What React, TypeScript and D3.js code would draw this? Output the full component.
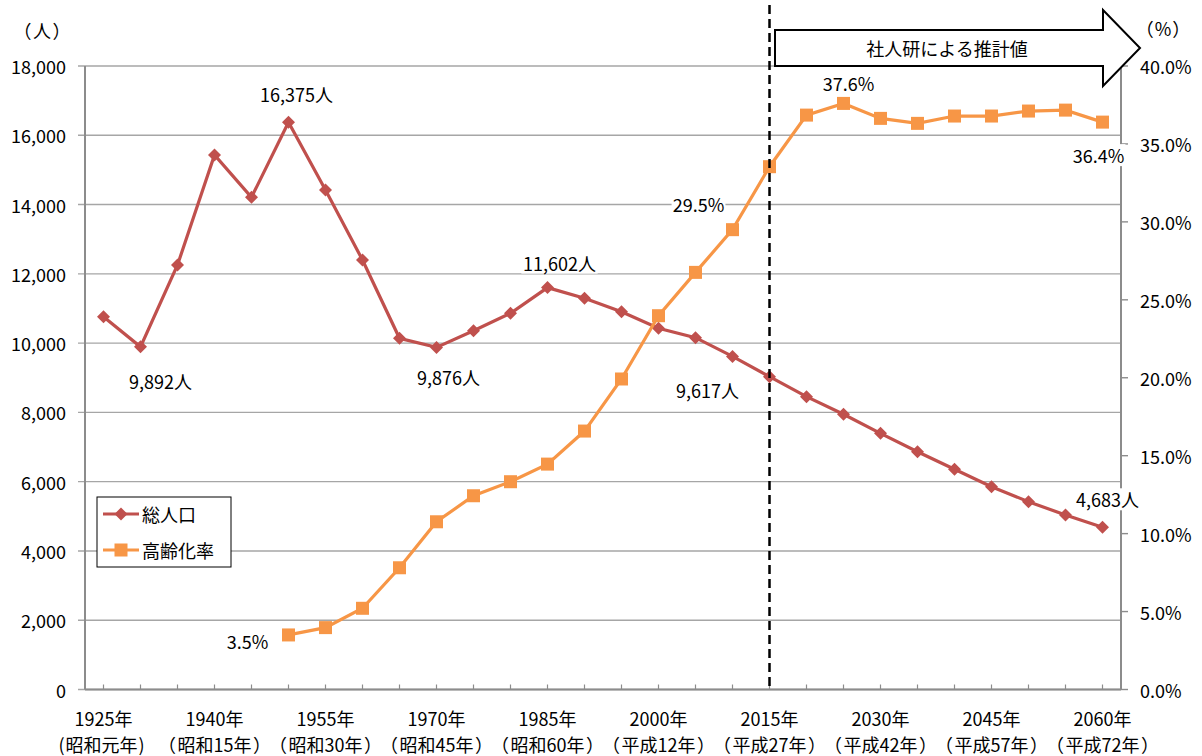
import React from "react";
import * as d3 from "d3";

const years = [1925,1930,1935,1940,1945,1950,1955,1960,1965,1970,1975,1980,1985,1990,1995,2000,2005,2010,2015,2020,2025,2030,2035,2040,2045,2050,2055,2060];
const population = [10760,9892,12255,15430,14209,16375,14420,12399,10139,9876,10358,10860,11602,11294,10907,10428,10157,9617,9030,8453,7945,7396,6865,6357,5855,5422,5038,4683];
const agingRate: (number | null)[] = [null,null,null,null,null,3.5,3.97,5.21,7.81,10.76,12.43,13.33,14.46,16.58,19.92,23.98,26.76,29.5,33.54,36.85,37.6,36.64,36.32,36.79,36.79,37.11,37.17,36.4];
const leftTicks = [0,2000,4000,6000,8000,10000,12000,14000,16000,18000];
const rightTicks = [0,5,10,15,20,25,30,35,40];
const xLabelYears = [1925,1940,1955,1970,1985,2000,2015,2030,2045,2060];
const xLabelLine1 = ["1925年","1940年","1955年","1970年","1985年","2000年","2015年","2030年","2045年","2060年"];
const xLabelEra = ["昭和元年","昭和15年","昭和30年","昭和45年","昭和60年","平成12年","平成27年","平成42年","平成57年","平成72年"];
const popLabelYears = [1930,1950,1970,1985,2010,2060];
const popLabelTexts = ["9,892人","16,375人","9,876人","11,602人","9,617人","4,683人"];
const rateLabelYears = [1950,2010,2025,2060];
const rateLabelTexts = ["3.5%","29.5%","37.6%","36.4%"];
const seriesNames = ["総人口","高齢化率"];
const projectionText = "社人研による推計値";
const projectionStart = 2015;

// layout offsets for labels (dx, dy of label centre from its point)
const popLabelOffsets = [[20,34],[8,-28],[12,30],[12,-25],[-25,34],[5,-28]];
const rateLabelOffsets = [[-41,6],[-34,-26],[5,-20],[-4,33]];

const W = 1202, H = 756;
const M = { left: 85, right: 1121, top: 66, bottom: 689.5 };
const RED = "#C0504D";
const ORANGE = "#F79646";
const FONT = "'Noto Sans CJK JP', 'Noto Sans', sans-serif";
const FS = 18;

export default function App() {
  const x = d3.scaleBand<number>().domain(years).range([M.left, M.right]).padding(0);
  const cx = (yr: number) => (x(yr) as number) + x.bandwidth() / 2;
  const yL = d3.scaleLinear().domain([0, 18000]).range([M.bottom, M.top]);
  const yR = d3.scaleLinear().domain([0, 40]).range([M.bottom, M.top]);

  const popLine = d3.line<number>().x((_, i) => cx(years[i])).y(d => yL(d));
  const rateLine = d3.line<number | null>()
    .defined(d => d != null)
    .x((_, i) => cx(years[i]))
    .y(d => yR(d as number));

  const diamond = (px: number, py: number, r = 6.5) =>
    `M${px},${py - r}L${px + r},${py}L${px},${py + r}L${px - r},${py}Z`;
  const fmt = d3.format(",");

  const labelBox = (key: string, text: string, lx: number, ly: number, w: number) => (
    <g key={key}>
      <rect x={lx - w / 2 - 2} y={ly - 11} width={w + 4} height={22} fill="#fff" />
      <text x={lx} y={ly} textAnchor="middle" dominantBaseline="central" fontSize={FS} fill="#000">{text}</text>
    </g>
  );
  const estWidth = (t: string) => {
    let w = 0;
    for (const ch of t) {
      if (/[0-9]/.test(ch)) w += 0.55 * FS;
      else if (ch === "," || ch === ".") w += 0.27 * FS;
      else if (ch === "%") w += 0.85 * FS;
      else w += FS;
    }
    return w;
  };

  const xDash = cx(projectionStart);

  return (
    <svg width={W} height={H} style={{ position: "absolute", left: 0, top: 0, background: "#fff" }} fontFamily={FONT}>
      {/* gridlines + left ticks */}
      {leftTicks.map(t => (
        <line key={"g" + t} x1={78} x2={M.right} y1={yL(t)} y2={yL(t)} stroke="#a6a6a6" strokeWidth={1.4} />
      ))}
      {/* right ticks */}
      {rightTicks.map(t => (
        <line key={"rt" + t} x1={M.right} x2={M.right + 7} y1={yR(t)} y2={yR(t)} stroke="#8c8c8c" strokeWidth={1.4} />
      ))}
      {/* axes */}
      <line x1={M.left} x2={M.left} y1={M.top} y2={M.bottom} stroke="#8c8c8c" strokeWidth={2} />
      <line x1={M.right} x2={M.right} y1={M.top} y2={M.bottom} stroke="#8c8c8c" strokeWidth={2} />
      <line x1={M.left} x2={M.right} y1={M.bottom} y2={M.bottom} stroke="#8c8c8c" strokeWidth={2} />
      {years.map(yr => (
        <line key={"xt" + yr} x1={cx(yr)} x2={cx(yr)} y1={M.bottom} y2={M.bottom - 5} stroke="#8c8c8c" strokeWidth={1.2} />
      ))}

      {/* left tick labels */}
      {leftTicks.map(t => (
        <text key={"lt" + t} x={66} y={yL(t)} textAnchor="end" dominantBaseline="central" fontSize={FS} fill="#000">{fmt(t)}</text>
      ))}
      {/* right tick labels */}
      {rightTicks.map(t => (
        <text key={"rl" + t} x={1140} y={yR(t)} textAnchor="start" dominantBaseline="central" fontSize={FS} fill="#000">{t.toFixed(1) + "%"}</text>
      ))}
      {/* x labels */}
      {xLabelYears.map((yr, i) => (
        <g key={"xl" + yr}>
          <text x={cx(yr)} y={718} textAnchor="middle" dominantBaseline="central" fontSize={FS} fill="#000">{xLabelLine1[i]}</text>
          {i === 0 ? (
            <text x={cx(yr) - 2} y={744} textAnchor="middle" dominantBaseline="central" fontSize={FS} fill="#000">
              <tspan>(</tspan><tspan dx={1}>{xLabelEra[i]}</tspan><tspan dx={1}>)</tspan>
            </text>
          ) : (
            <text x={cx(yr)} y={744} textAnchor="middle" dominantBaseline="central" fontSize={FS} fill="#000">
              <tspan>（</tspan><tspan dx={1.5}>{xLabelEra[i]}</tspan><tspan dx={1.5}>）</tspan>
            </text>
          )}
        </g>
      ))}
      {/* unit labels */}
      <text x={42} y={30} textAnchor="middle" dominantBaseline="central" fontSize={FS} fill="#000">
        <tspan>（</tspan><tspan dx={1.5}>人</tspan><tspan dx={1.5}>）</tspan>
      </text>
      <text x={1163} y={28} textAnchor="middle" dominantBaseline="central" fontSize={FS} fill="#000">
        <tspan>（</tspan><tspan dx={1}>%</tspan><tspan dx={1}>）</tspan>
      </text>

      {/* series */}
      <path d={popLine(population) || ""} fill="none" stroke={RED} strokeWidth={3.2} />
      {population.map((v, i) => (
        <path key={"pm" + i} d={diamond(cx(years[i]), yL(v))} fill={RED} />
      ))}
      <path d={rateLine(agingRate) || ""} fill="none" stroke={ORANGE} strokeWidth={3.2} />
      {agingRate.map((v, i) =>
        v == null ? null : (
          <rect key={"rm" + i} x={cx(years[i]) - 6.5} y={yR(v) - 6.5} width={13} height={13} fill={ORANGE} />
        )
      )}

      {/* data labels */}
      {popLabelYears.map((yr, i) => {
        const idx = years.indexOf(yr);
        const px = cx(yr), py = yL(population[idx]);
        return labelBox("pl" + i, popLabelTexts[i], px + popLabelOffsets[i][0], py + popLabelOffsets[i][1], estWidth(popLabelTexts[i]));
      })}
      {rateLabelYears.map((yr, i) => {
        const idx = years.indexOf(yr);
        const px = cx(yr), py = yR(agingRate[idx] as number);
        return labelBox("rl" + i, rateLabelTexts[i], px + rateLabelOffsets[i][0], py + rateLabelOffsets[i][1], estWidth(rateLabelTexts[i]));
      })}

      {/* legend */}
      <rect x={97} y={497} width={134} height={70} fill="#fff" stroke="#000" strokeWidth={1} />
      <line x1={103} x2={139} y1={514} y2={514} stroke={RED} strokeWidth={3} />
      <path d={diamond(121, 514)} fill={RED} />
      <text x={142} y={514} dominantBaseline="central" fontSize={FS} fill="#000">{seriesNames[0]}</text>
      <line x1={103} x2={139} y1={550} y2={550} stroke={ORANGE} strokeWidth={3} />
      <rect x={121 - 6.5} y={550 - 6.5} width={13} height={13} fill={ORANGE} />
      <text x={142} y={550} dominantBaseline="central" fontSize={FS} fill="#000">{seriesNames[1]}</text>

      {/* projection dashed line */}
      <line x1={xDash} x2={xDash} y1={5} y2={M.bottom} stroke="#000" strokeWidth={2.5} strokeDasharray="9,5" />

      {/* arrow */}
      <path d="M775,30L1103,30L1103,10L1140,48L1103,86L1103,66L775,66Z" fill="#fff" stroke="#000" strokeWidth={2} strokeLinejoin="miter" />
      <text x={947} y={48} textAnchor="middle" dominantBaseline="central" fontSize={FS} fill="#000">{projectionText}</text>
    </svg>
  );
}
